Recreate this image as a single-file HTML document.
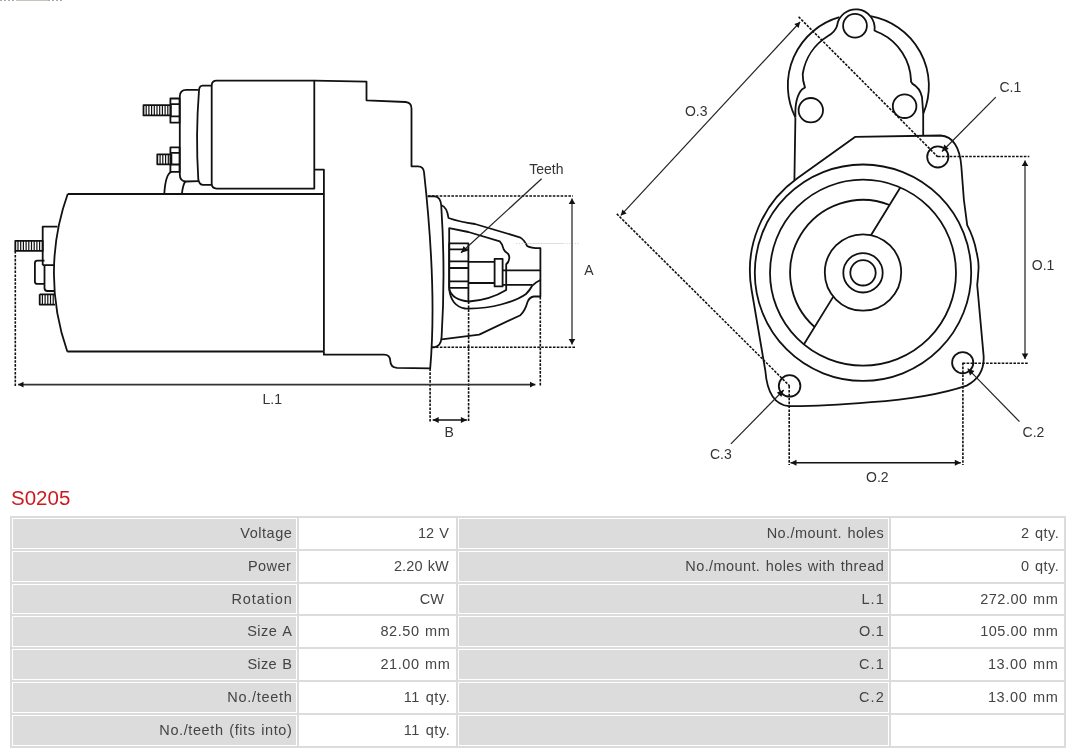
<!DOCTYPE html>
<html><head><meta charset="utf-8"><style>
html,body{margin:0;padding:0;background:#fff;}
body{width:1080px;height:753px;position:relative;overflow:hidden;font-family:"Liberation Sans",sans-serif;}
svg{position:absolute;left:0;top:0;}
.s path,.s rect,.s circle{fill:none;stroke:#111;stroke-width:1.8;stroke-linejoin:round;}
.dt{fill:none;stroke:#111;stroke-width:1.6;stroke-dasharray:2.6 1.3;}
.s .th{stroke-width:1.2;}
.dl{fill:none;stroke:#222;stroke-width:1.2;}
.dg{fill:none;stroke:#777;stroke-width:2;}
.dk{fill:none;stroke:#333;stroke-width:1.6;}
.dm{fill:none;stroke:#111;stroke-width:1.5;}
.ah{fill:#111;stroke:none;}
.ahg{fill:#333;stroke:none;}
text{font-family:"Liberation Sans",sans-serif;font-size:14px;fill:#333;}
#title{position:absolute;left:11px;top:486px;font-size:20.5px;color:#cc1a1f;line-height:24px;}
#tbl{position:absolute;left:10px;top:516px;width:1056px;height:231.8px;background:#dcdcdc;}
.c{position:absolute;height:30.83px;box-sizing:border-box;border:1px solid #fff;}
.c.g{background:#dcdcdc;}
.c.w{background:#fff;}
.c span{position:absolute;top:0;line-height:28.83px;font-size:14.5px;letter-spacing:0.2px;word-spacing:1px;color:#444;white-space:nowrap;}
#topline{position:absolute;left:0;top:0;width:64px;height:1px;background:linear-gradient(90deg,transparent 16px,#c8c4bc 16px,#c8c4bc 48px,transparent 48px),repeating-linear-gradient(90deg,#aaa 0 2px,#fff 2px 4px);}
</style></head><body>
<div id="wrap" style="position:absolute;left:0;top:0;width:1080px;height:753px;will-change:transform;">
<div id="topline"></div>
<svg width="1080" height="500" viewBox="0 0 1080 500">
<!-- solenoid bolts -->
<g class="s">
<rect x="143.5" y="105.2" width="27.3" height="10.2"/><path class="th" d="M146.2 105.2V115.4M148.9 105.2V115.4M151.6 105.2V115.4M154.3 105.2V115.4M157.0 105.2V115.4M159.7 105.2V115.4M162.4 105.2V115.4M165.1 105.2V115.4M167.8 105.2V115.4"/>
<rect x="170.4" y="98.5" width="9.2" height="24.2"/>
<path d="M170.4 104.2H179.6M170.4 116.3H179.6"/>
<rect x="157.3" y="154.3" width="14.1" height="10"/><path class="th" d="M160.1 154.3V164.3M162.8 154.3V164.3M165.6 154.3V164.3M168.3 154.3V164.3"/>
<rect x="170.4" y="147.4" width="9.2" height="24.5"/>
<path d="M170.4 152.9H179.6M170.4 164.5H179.6"/>
<!-- end cap -->
<path d="M198.5 89.9H186.3Q179.8 89.9 179.8 96.5V174.6Q179.8 181.5 186 181.5L198.5 181.2"/>
<path d="M211.7 85.6H202.5Q199.3 85.8 199 90.5Q195.5 135 198.3 179.5Q199.3 184.9 203 184.9H211.7"/>
<path d="M216.7 80.7H314.3V188.6H216.7Q211.7 188.6 211.7 183.6V85.7Q211.7 80.7 216.7 80.7Z"/>
<path d="M164.3 193.8Q165.5 174 171.4 171.9M181.9 193.8Q183 184 185.5 181.4"/>
<!-- drive housing -->
<path d="M314.3 80.7L366.5 81.7V100.3L405.5 102Q411.5 102.5 411.5 108.5V166.3H418Q423.5 166.5 424 172Q437 290 430.2 368.4L397 367.8Q390.5 367.5 390.3 361Q390 354.7 384 354.7H323.9V351.3"/>
<path d="M314.3 169.7H323.9V351.3"/>
<!-- motor housing -->
<path d="M67.7 194H323.9M67.3 351.5H323.9M67.7 194A235 235 0 0 0 67.3 351.5"/>
<!-- terminals -->
<rect x="15.3" y="240.8" width="27.4" height="10.1"/><path class="th" d="M18.0 240.8V250.9M20.7 240.8V250.9M23.4 240.8V250.9M26.1 240.8V250.9M28.8 240.8V250.9M31.5 240.8V250.9M34.2 240.8V250.9M36.9 240.8V250.9M39.6 240.8V250.9"/>
<path d="M42.7 265.2V226.7H57.5M42.7 265.2H54.5M44.5 265.2V288Q44.5 291 47.5 291H54.2"/>
<path d="M44.5 260.7H37.4Q34.9 260.7 34.9 263.2V281.4Q34.9 283.9 37.4 283.9H44.5"/>
<path d="M39.7 294.3H54.5M39.7 294.3V304.6H55"/><path class="th" d="M42.4 294.3V304.6M45.1 294.3V304.6M47.8 294.3V304.6M50.5 294.3V304.6M53.2 294.3V304.6"/>
<!-- nose -->
<path d="M427.5 196.3H435Q440.5 197 441.2 205Q445.6 272 441.6 337Q441 346.5 434 347.3H431"/>
<path d="M441.2 205Q447 207 448.5 218Q460 222 475 224L519.8 237.3Q524 239.5 527.1 245.9Q530 248 540.4 248.2V296.5H534Q529.5 297 527.5 302Q525 311 520.4 315.2L479.2 334.6L441.6 339.3"/>
<path d="M449.2 289V228.2L468.4 232L499.8 241.4Q502.5 244 503.7 249.4Q504.5 251.5 507.7 253.4Q509.8 256 509.2 258.5Q509 262 506.2 264.3V290Q490 300 469 301.5Q452 300 449.2 289"/>
<path d="M449.2 289Q451 306 465 308.5Q485 309 501 304.5Q518 300 526 294Q530 290 532 286Q535 282.5 540.4 280"/>
<rect x="449.2" y="243.4" width="19.2" height="44.4"/>
<path d="M449.2 249.4H468.4M449.2 261.4H468.4M449.2 268H468.4M449.2 281.3H468.4M468.4 287.8V301.5"/>
<path d="M468.4 261.8H494.6M468.4 283H494.6M502.6 270.3H540.4M502.6 284.8H532.5"/>
<rect x="494.6" y="258.8" width="8" height="27.6"/>
</g>

<g class="s">
<path d="M839.4 17.2A71 71 0 0 0 795.4 117.4M870.6 16.1A71 71 0 0 1 923.5 113.1"/>
<path d="M795.4 117.4Q794.6 97 802.3 89.2L805 87.6Q802.5 80 802.7 74A54.5 54.5 0 0 1 828 36Q835 32 837 26A18.5 18.5 0 1 1 874.5 30.5Q877 32 881 33.5A54.5 54.5 0 0 1 911 80L911 81.8L912.6 83.9Q920 88 922 97L923.2 113.1"/>
<path d="M795.4 117.4L794.4 180.3M923.2 113.1V135.8"/>
<circle cx="855" cy="25.8" r="11.9"/>
<circle cx="810.8" cy="110.2" r="12.2"/>
<circle cx="904.6" cy="106.2" r="11.8"/>
<path d="M797 178.6L855 136.9L940.5 135.5C953 136 960 148 961.3 166L963.9 200L967.2 225.2Q974 238 976.5 252Q979 262 978.5 269Q978 278 977.2 285L983.6 355.7Q985 376 966.7 385.6Q930 398 871 402.2Q820 406.5 788.9 406.2Q768 404 765.4 371.2L751.6 290A113 113 0 0 1 797 178.6"/>
<circle cx="937.8" cy="156.9" r="10.6"/>
<circle cx="962.7" cy="362.7" r="10.6"/>
<circle cx="789.6" cy="385.9" r="10.8"/>
<circle cx="863" cy="272.7" r="108.2"/>
<circle cx="863" cy="272.7" r="93"/>
<path d="M889.6 205A72.7 72.7 0 0 0 814.6 327"/>
<path d="M900.3 187.5L870.8 235.5M833.3 296.6L803.8 344.5"/>
<circle cx="863" cy="272.5" r="38.2"/>
<circle cx="863" cy="272.8" r="19.7"/>
<circle cx="863" cy="272.8" r="12.7"/>
</g>

<path d="M516 243.5H580" stroke="#d4d4d4" stroke-width="0.9" stroke-dasharray="1.2 1.6" fill="none"/><path d="M528 243.5H563" stroke="#dcdcd8" stroke-width="0.9" fill="none"/>
<path class="dt" d="M428 196L573 196"/>
<path class="dt" d="M432 347.3L575 347.3"/>
<path class="dt" d="M15.3 251L15.3 386"/>
<path class="dt" d="M540.3 297L540.3 386"/>
<path class="dt" d="M430.1 368.4L430.1 421.5"/>
<path class="dt" d="M468.6 301.5L468.6 421.5"/>
<path class="dt" d="M798.6 16.8L937.8 156.9"/>
<path class="dt" d="M616.8 213.9L789.6 385.9"/>
<path class="dt" d="M938 156.5L1029.3 156.5"/>
<path class="dt" d="M962.7 363.2L1028.7 363.2"/>
<path class="dt" d="M789.2 386L789.2 465"/>
<path class="dt" d="M962.9 362.7L962.9 465"/>
<path class="dg" d="M572 198.4L572 344.6"/><path class="ah" d="M572.0 344.6L568.7 339.0L575.3 339.0Z"/><path class="ah" d="M572.0 198.4L575.3 204.0L568.7 204.0Z"/>
<path class="dk" d="M18.1 384.6L535.4 384.6"/><path class="ah" d="M535.4 384.6L530.0 387.5L530.0 381.7Z"/><path class="ah" d="M18.1 384.6L23.5 381.7L23.5 387.5Z"/>
<path class="dm" d="M432.7 419.9L466.9 419.9"/><path class="ah" d="M466.9 419.9L460.9 422.9L460.9 416.9Z"/><path class="ah" d="M432.7 419.9L438.7 416.9L438.7 422.9Z"/>
<path class="dg" d="M1025 160.4L1025 359.1"/><path class="ah" d="M1025.0 359.1L1021.7 353.5L1028.3 353.5Z"/><path class="ah" d="M1025.0 160.4L1028.3 166.0L1021.7 166.0Z"/>
<path class="dm" d="M790.5 462.7L960.8 462.7"/><path class="ah" d="M960.8 462.7L954.8 465.7L954.8 459.7Z"/><path class="ah" d="M790.5 462.7L796.5 459.7L796.5 465.7Z"/>
<path class="dl" d="M620.8 215.4L800.1 22"/><path class="ah" d="M800.1 22.0L798.6 27.9L794.3 24.0Z"/><path class="ah" d="M620.8 215.4L622.3 209.5L626.6 213.4Z"/>
<path class="dl" d="M541.6 178.8L461 252.7"/><path class="ah" d="M461.0 252.7L463.6 245.9L468.0 250.7Z"/>
<path class="dl" d="M995.8 97.2L942 151.5"/><path class="ah" d="M942.0 151.5L944.3 144.6L948.8 149.1Z"/>
<path class="dl" d="M1019.5 421.7L967.7 368.7"/><path class="ah" d="M967.7 368.7L974.5 371.1L970.0 375.6Z"/>
<path class="dl" d="M730.9 443.8L783.7 390"/><path class="ah" d="M783.7 390.0L781.4 396.9L776.9 392.4Z"/>
<text x="529.2" y="173.8">Teeth</text>
<text x="584.2" y="274.8">A</text>
<text x="262.5" y="404">L.1</text>
<text x="444.6" y="436.5">B</text>
<text x="684.9" y="116.1">O.3</text>
<text x="999.5" y="91.6">C.1</text>
<text x="1031.8" y="269.6">O.1</text>
<text x="1022.6" y="437">C.2</text>
<text x="709.9" y="459.3">C.3</text>
<text x="866" y="482.2">O.2</text>
</svg>
<div id="title">S0205</div>
<div id="tbl"></div>
<div class="c g" style="left:12px;top:518.00px;width:285px;"><span style="right:3.67px;letter-spacing:0.533px">Voltage</span></div>
<div class="c w" style="left:299px;top:518.00px;width:157px;"><span style="right:6.17px;letter-spacing:0.033px">12 V</span></div>
<div class="c g" style="left:458px;top:518.00px;width:431px;"><span style="right:3.77px;letter-spacing:0.433px">No./mount. holes</span></div>
<div class="c w" style="left:891px;top:518.00px;width:173px;"><span style="right:3.70px;letter-spacing:0.500px">2 qty.</span></div>
<div class="c g" style="left:12px;top:550.83px;width:285px;"><span style="right:4.75px;letter-spacing:0.450px">Power</span></div>
<div class="c w" style="left:299px;top:550.83px;width:157px;"><span style="right:6.08px;letter-spacing:0.117px">2.20 kW</span></div>
<div class="c g" style="left:458px;top:550.83px;width:431px;"><span style="right:3.80px;letter-spacing:0.404px">No./mount. holes with thread</span></div>
<div class="c w" style="left:891px;top:550.83px;width:173px;"><span style="right:3.70px;letter-spacing:0.500px">0 qty.</span></div>
<div class="c g" style="left:12px;top:583.66px;width:285px;"><span style="right:3.29px;letter-spacing:0.914px">Rotation</span></div>
<div class="c w" style="left:299px;top:583.66px;width:157px;"><span style="right:5.50px;letter-spacing:0.200px">CW&nbsp;</span></div>
<div class="c g" style="left:458px;top:583.66px;width:431px;"><span style="right:3.10px;letter-spacing:1.100px">L.1</span></div>
<div class="c w" style="left:891px;top:583.66px;width:173px;"><span style="right:4.69px;letter-spacing:0.512px">272.00 mm</span></div>
<div class="c g" style="left:12px;top:616.49px;width:285px;"><span style="right:3.70px;letter-spacing:0.500px">Size A</span></div>
<div class="c w" style="left:299px;top:616.49px;width:157px;"><span style="right:4.64px;letter-spacing:0.557px">82.50 mm</span></div>
<div class="c g" style="left:458px;top:616.49px;width:431px;"><span style="right:3.50px;letter-spacing:0.700px">O.1</span></div>
<div class="c w" style="left:891px;top:616.49px;width:173px;"><span style="right:4.69px;letter-spacing:0.512px">105.00 mm</span></div>
<div class="c g" style="left:12px;top:649.32px;width:285px;"><span style="right:3.90px;letter-spacing:0.300px">Size B</span></div>
<div class="c w" style="left:299px;top:649.32px;width:157px;"><span style="right:4.64px;letter-spacing:0.557px">21.00 mm</span></div>
<div class="c g" style="left:458px;top:649.32px;width:431px;"><span style="right:3.10px;letter-spacing:1.100px">C.1</span></div>
<div class="c w" style="left:891px;top:649.32px;width:173px;"><span style="right:4.57px;letter-spacing:0.629px">13.00 mm</span></div>
<div class="c g" style="left:12px;top:682.15px;width:285px;"><span style="right:3.50px;letter-spacing:0.700px">No./teeth</span></div>
<div class="c w" style="left:299px;top:682.15px;width:157px;"><span style="right:4.58px;letter-spacing:0.617px">11 qty.</span></div>
<div class="c g" style="left:458px;top:682.15px;width:431px;"><span style="right:3.10px;letter-spacing:1.100px">C.2</span></div>
<div class="c w" style="left:891px;top:682.15px;width:173px;"><span style="right:4.57px;letter-spacing:0.629px">13.00 mm</span></div>
<div class="c g" style="left:12px;top:714.98px;width:285px;"><span style="right:3.60px;letter-spacing:0.600px">No./teeth (fits into)</span></div>
<div class="c w" style="left:299px;top:714.98px;width:157px;"><span style="right:4.58px;letter-spacing:0.617px">11 qty.</span></div>
<div class="c g" style="left:458px;top:714.98px;width:431px;"></div>
<div class="c w" style="left:891px;top:714.98px;width:173px;"></div>

</div>
</body></html>
